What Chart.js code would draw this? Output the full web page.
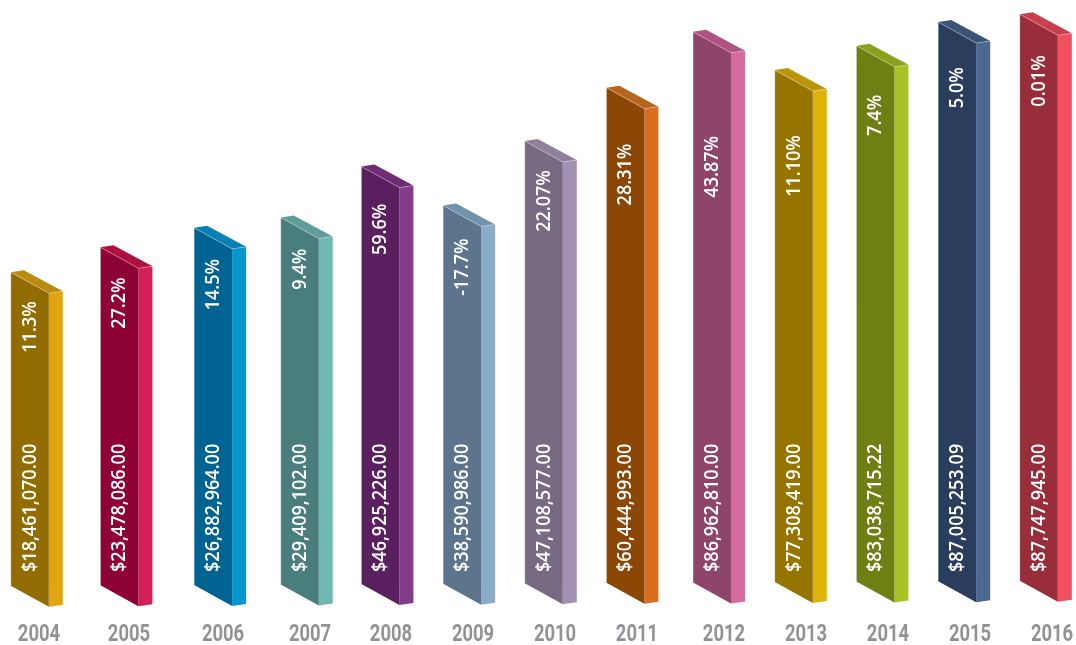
<!DOCTYPE html>
<html>
<head>
<meta charset="utf-8">
<style>
  html, body { margin: 0; padding: 0; background: #fff; }
  canvas { display: block; }
</style>
<script src="https://cdn.jsdelivr.net/npm/chart.js@4"></script>
</head>
<body>
<canvas id="salesChart" width="1076" height="645"></canvas>
<script>
const years = ['2004', '2005', '2006', '2007', '2008', '2009', '2010', '2011', '2012', '2013', '2014', '2015', '2016'];
const amounts = ['$18,461,070.00', '$23,478,086.00', '$26,882,964.00', '$29,409,102.00', '$46,925,226.00', '$38,590,986.00', '$47,108,577.00', '$60,444,993.00', '$86,962,810.00', '$77,308,419.00', '$83,038,715.22', '$87,005,253.09', '$87,747,945.00'];
const growth = ['11.3%', '27.2%', '14.5%', '9.4%', '59.6%', '-17.7%', '22.07%', '28.31%', '43.87%', '11.10%', '7.4%', '5.0%', '0.01%'];
// bar heights as drawn in the picture (not proportional to the amounts), 0-100
const barLevels = [51.7, 55.8, 59.0, 60.7, 69.1, 62.7, 73.3, 82.1, 91.3, 85.0, 89.0, 92.9, 94.2];
const frontColors = ['#936c00', '#8e0235', '#006391', '#4a7e7c', '#5a1f5e', '#5c758c', '#786a82', '#8c4606', '#8f4469', '#957400', '#6f7f14', '#2a3d5c', '#992d39'];
const sideColors = ['#e0a410', '#d42057', '#0896cf', '#6fb7b2', '#823c8a', '#8aacc9', '#a190b2', '#d86e1e', '#d56a9b', '#e0b30c', '#a9c226', '#4a6890', '#f24f60'];
const topColors = ['#bd8a10', '#b0103f', '#0780b5', '#5f9c98', '#6e2c74', '#7192ac', '#90809c', '#b8651e', '#b05282', '#bd9508', '#8ca01c', '#3c5478', '#c93f4e'];

// Category scale with hand-set slots, the columns in the picture aren't evenly spaced
class NudgedCategory extends Chart.CategoryScale {
  getPixelForValue(value) {
    const nudge = this.options.nudge[value] || 0;
    return super.getPixelForValue(value) + nudge;
  }
}
NudgedCategory.id = 'nudgedCategory';
NudgedCategory.defaults = Chart.CategoryScale.defaults;
Chart.register(NudgedCategory);

// Draws each bar as an extruded block from the bar element's own coordinates
const blockBars = {
  id: 'blockBars',
  afterDatasetsDraw(chart, args, opts) {
    const ctx = chart.ctx;
    const xScale = chart.scales.x;

    const sideText = (text, x, y, align) => {
      ctx.save();
      ctx.fillStyle = '#fff';
      ctx.font = '600 20.5px "Open Sans"';
      ctx.textBaseline = 'middle';
      ctx.textAlign = align;
      ctx.translate(x, y);
      ctx.rotate(-Math.PI / 2);
      ctx.scale(opts.squeeze, 1);
      ctx.fillText(text, 0, 0);
      ctx.restore();
    };

    chart.getDatasetMeta(0).data.forEach((bar, i) => {
      const x0 = bar.x - 28 - bar.x * 0.004;
      const x1 = x0 + 38;
      const x2 = x1 + 14;
      const top = bar.y;
      const bottom = bar.base - bar.x * 0.005;

      const poly = (points, fill) => {
        ctx.beginPath();
        points.forEach((p, n) => n ? ctx.lineTo(p[0], p[1]) : ctx.moveTo(p[0], p[1]));
        ctx.closePath();
        ctx.fillStyle = fill;
        ctx.fill();
      };
      poly([[x1, top], [x2, top - 2], [x2, bottom - 2], [x1, bottom]], sideColors[i]);
      poly([[x0, top - 21], [x1, top], [x1, bottom], [x0, bottom - 21]], frontColors[i]);
      poly([[x0, top - 21], [x0 + 13, top - 23], [x2, top - 2], [x1, top]], topColors[i]);

      // thin light edge along the top and left of the front face
      ctx.beginPath();
      ctx.moveTo(x0, bottom - 21);
      ctx.lineTo(x0, top - 21);
      ctx.lineTo(x1, top);
      ctx.lineTo(x2, top - 2);
      ctx.strokeStyle = 'rgba(255,255,255,0.3)';
      ctx.lineWidth = 1;
      ctx.stroke();

      const cx = x0 + 19;
      sideText(amounts[i], cx, 572, 'left');
      sideText(growth[i], cx, top - 21 + opts.growthOffset[i], 'right');

      // year labels squeezed to the reference's condensed look
      ctx.save();
      ctx.fillStyle = '#909295';
      ctx.font = '700 23px Roboto';
      ctx.textAlign = 'center';
      ctx.textBaseline = 'middle';
      ctx.translate(xScale.getPixelForTick(i), xScale.bottom - 10);
      ctx.scale(0.8, 1);
      ctx.fillText(xScale.getLabelForValue(i), 0, 0);
      ctx.restore();
    });
  }
};

new Chart(document.getElementById('salesChart').getContext('2d'), {
  type: 'bar',
  data: {
    labels: years,
    datasets: [{
      label: 'Sales',
      data: barLevels,
      backgroundColor: 'transparent',
      borderWidth: 0,
      barThickness: 38
    }]
  },
  plugins: [blockBars],
  options: {
    responsive: false,
    animation: false,
    layout: { padding: 0 },
    plugins: {
      legend: { display: false },
      tooltip: { enabled: false },
      blockBars: {
        squeeze: 0.88,
        growthOffset: [29, 30, 31, 31, 37, 33, 29, 56, 104, 65, 49, 45, 41]
      }
    },
    scales: {
      x: {
        type: 'nudgedCategory',
        nudge: [-2.4, 4.8, 16.1, 20.3, 18.5, 17.8, 17, 16.2, 20.4, 19.7, 18.9, 18.2, 17.4],
        afterFit(scale) { scale.height = 38; },
        grid: { display: false, drawTicks: false },
        border: { display: false },
        ticks: { display: false, autoSkip: false }
      },
      y: {
        display: false,
        min: 0,
        max: 100
      }
    }
  }
});
</script>
</body>
</html>
